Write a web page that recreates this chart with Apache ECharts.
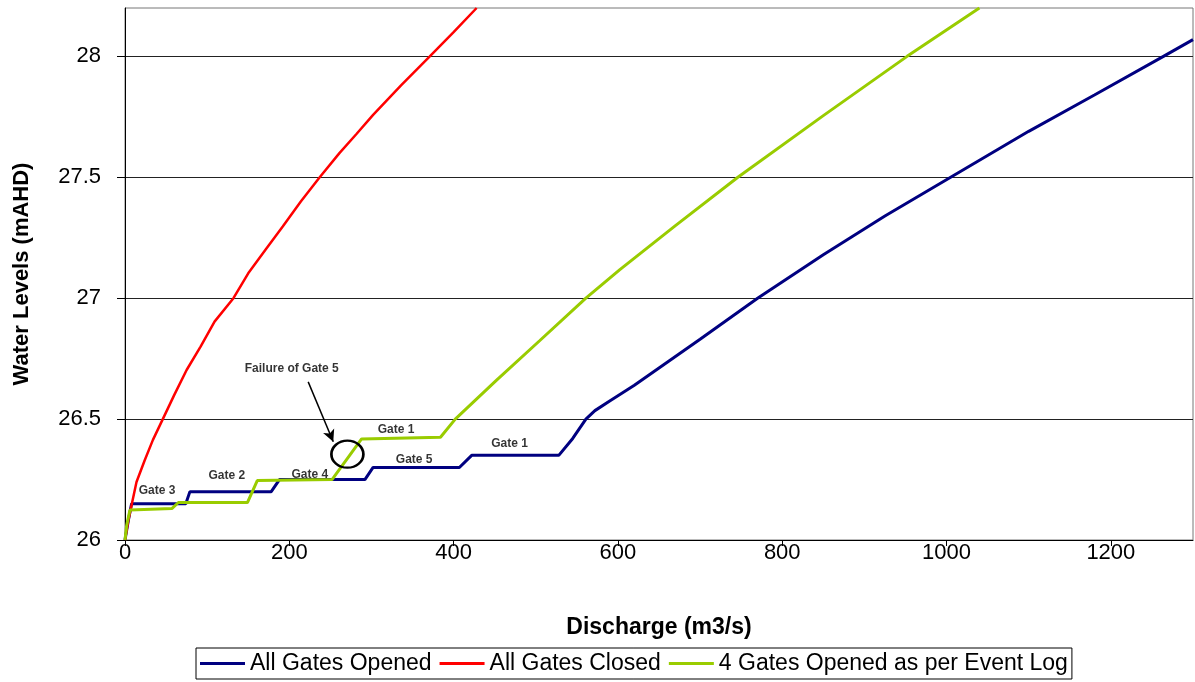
<!DOCTYPE html>
<html>
<head>
<meta charset="utf-8">
<script src="https://cdn.jsdelivr.net/npm/echarts@6/dist/echarts.min.js"></script>
<style>
html,body{margin:0;padding:0;background:#fff;}
#chart{width:1195px;height:682px;}
</style>
</head>
<body>
<div id="chart"></div>
<script>
// ---- data ----
const seriesNames = ['All Gates Opened', 'All Gates Closed', '4 Gates Opened as per Event Log'];
const xTicks = [0, 200, 400, 600, 800, 1000, 1200];
const yTicks = [26, 26.5, 27, 27.5, 28];

const allGatesOpened = [
  [0,26],[4,26.08],[8,26.15],[74,26.15],[79,26.2],[178,26.2],[188,26.25],[292,26.25],
  [302,26.3],[407,26.3],[422,26.35],[528,26.35],[545,26.42],[561,26.5],[572,26.535],
  [590,26.575],[620,26.64],[660,26.735],[700,26.83],[770,27.0],[850,27.18],[925,27.34],
  [1005,27.5],[1100,27.69],[1180,27.84],[1264,28.0],[1300,28.069]
];
const allGatesClosed = [
  [0,26],[4,26.08],[9,26.16],[14,26.24],[24,26.33],[34,26.414],[46,26.5],[60,26.6],
  [75,26.703],[92,26.8],[109,26.903],[132,27.0],[150,27.103],[171,27.2],[192,27.296],
  [214,27.4],[237,27.5],[261,27.6],[282,27.68],[302,27.758],[336,27.88],[371,28.0],
  [400,28.1],[428,28.2]
];
const fourGatesOpened = [
  [0,26],[2,26.06],[6,26.124],[57,26.13],[65,26.155],[149,26.155],[161,26.246],[252,26.25],
  [288,26.418],[384,26.425],[402,26.5],[452,26.66],[505,26.825],[561,27.0],[602,27.117],
  [670,27.3],[746,27.5],[850,27.755],[952,28.0],[1040,28.2]
];
const gateLabels = [
  ['Gate 3', 39, 26.202],
  ['Gate 2', 124, 26.267],
  ['Gate 4', 225, 26.27],
  ['Gate 1', 330, 26.457],
  ['Gate 5', 352, 26.333],
  ['Gate 1', 468, 26.397],
  ['Failure of Gate 5', 203, 26.71]
];
const arrowFrom = [223, 26.654];
const arrowTo = [253.5, 26.406];
const circleAt = [270.7, 26.355];

// ---- chart ----
const FONT = "'Liberation Sans', Arial, sans-serif";
const chart = echarts.init(document.getElementById('chart'), null, {renderer: 'canvas'});
chart.setOption({
  animation: false,
  backgroundColor: '#ffffff',
  grid: {left: 125, right: 2, top: 8, bottom: 142, show: true, borderColor: '#777', borderWidth: 1, backgroundColor: 'transparent'},
  legend: {
    data: seriesNames,
    left: 196, top: 648,
    padding: [4, 4],
    itemGap: 8,
    itemWidth: 45, itemHeight: 3,
    icon: 'rect',
    borderColor: '#000', borderWidth: 1, borderRadius: 0,
    textStyle: {fontFamily: FONT, fontSize: 23, color: '#000'}
  },
  xAxis: {
    type: 'value', min: 0, max: 1300, interval: 200,
    name: 'Discharge (m3/s)', nameLocation: 'middle', nameGap: 76,
    nameTextStyle: {fontFamily: FONT, fontSize: 23, fontWeight: 'bold', color: '#000'},
    axisLine: {show: true, lineStyle: {color: '#000', width: 1}},
    axisTick: {show: true, length: 6, lineStyle: {color: '#000'}, customValues: xTicks},
    axisLabel: {fontFamily: FONT, fontSize: 22, color: '#000', margin: 2, customValues: xTicks,
      formatter: v => String(v)},
    splitLine: {show: false}
  },
  yAxis: {
    type: 'value', min: 26, max: 28.2, interval: 0.5,
    name: 'Water Levels (mAHD)', nameLocation: 'middle', nameGap: 92, nameRotate: 90,
    nameTextStyle: {fontFamily: FONT, fontSize: 22, fontWeight: 'bold', color: '#000'},
    axisLine: {show: true, lineStyle: {color: '#000', width: 1}},
    axisTick: {show: true, length: 8, lineStyle: {color: '#000'}, customValues: yTicks},
    axisLabel: {fontFamily: FONT, fontSize: 22, color: '#000', margin: 24, customValues: yTicks,
      formatter: v => String(v)},
    splitLine: {show: true, lineStyle: {color: '#222', width: 1}}
  },
  series: [
    {
      name: seriesNames[0], type: 'line', data: allGatesOpened, showSymbol: false, symbol: 'none',
      lineStyle: {color: '#000080', width: 3}, itemStyle: {color: '#000080'}, z: 3
    },
    {
      name: seriesNames[1], type: 'line', data: allGatesClosed, showSymbol: false, symbol: 'none',
      lineStyle: {color: '#ff0000', width: 2.5}, itemStyle: {color: '#ff0000'}, z: 4
    },
    {
      name: seriesNames[2], type: 'line', data: fourGatesOpened, showSymbol: false, symbol: 'none',
      lineStyle: {color: '#99cc00', width: 3}, itemStyle: {color: '#99cc00'}, z: 5,
      markLine: {
        silent: true, symbol: ['none', 'arrow'], symbolSize: [9, 12],
        lineStyle: {color: '#000', width: 1.5, type: 'solid'},
        label: {show: false},
        data: [[{coord: arrowFrom}, {coord: arrowTo}]]
      }
    },
    {
      name: 'labels', type: 'scatter', z: 6, silent: true,
      symbolSize: 1, itemStyle: {color: 'rgba(0,0,0,0)'},
      data: gateLabels.map(d => ({name: d[0], value: [d[1], d[2]]})),
      label: {show: true, position: 'inside', formatter: p => p.name,
        fontFamily: FONT, fontSize: 12, fontWeight: 'bold', color: '#000'}
    },
    {
      name: 'circle', type: 'scatter', z: 7, silent: true,
      symbol: 'circle', symbolSize: [32, 27],
      itemStyle: {color: 'rgba(0,0,0,0)', borderColor: '#000', borderWidth: 2.5, opacity: 1},
      data: [circleAt]
    }
  ]
});
</script>
</body>
</html>
